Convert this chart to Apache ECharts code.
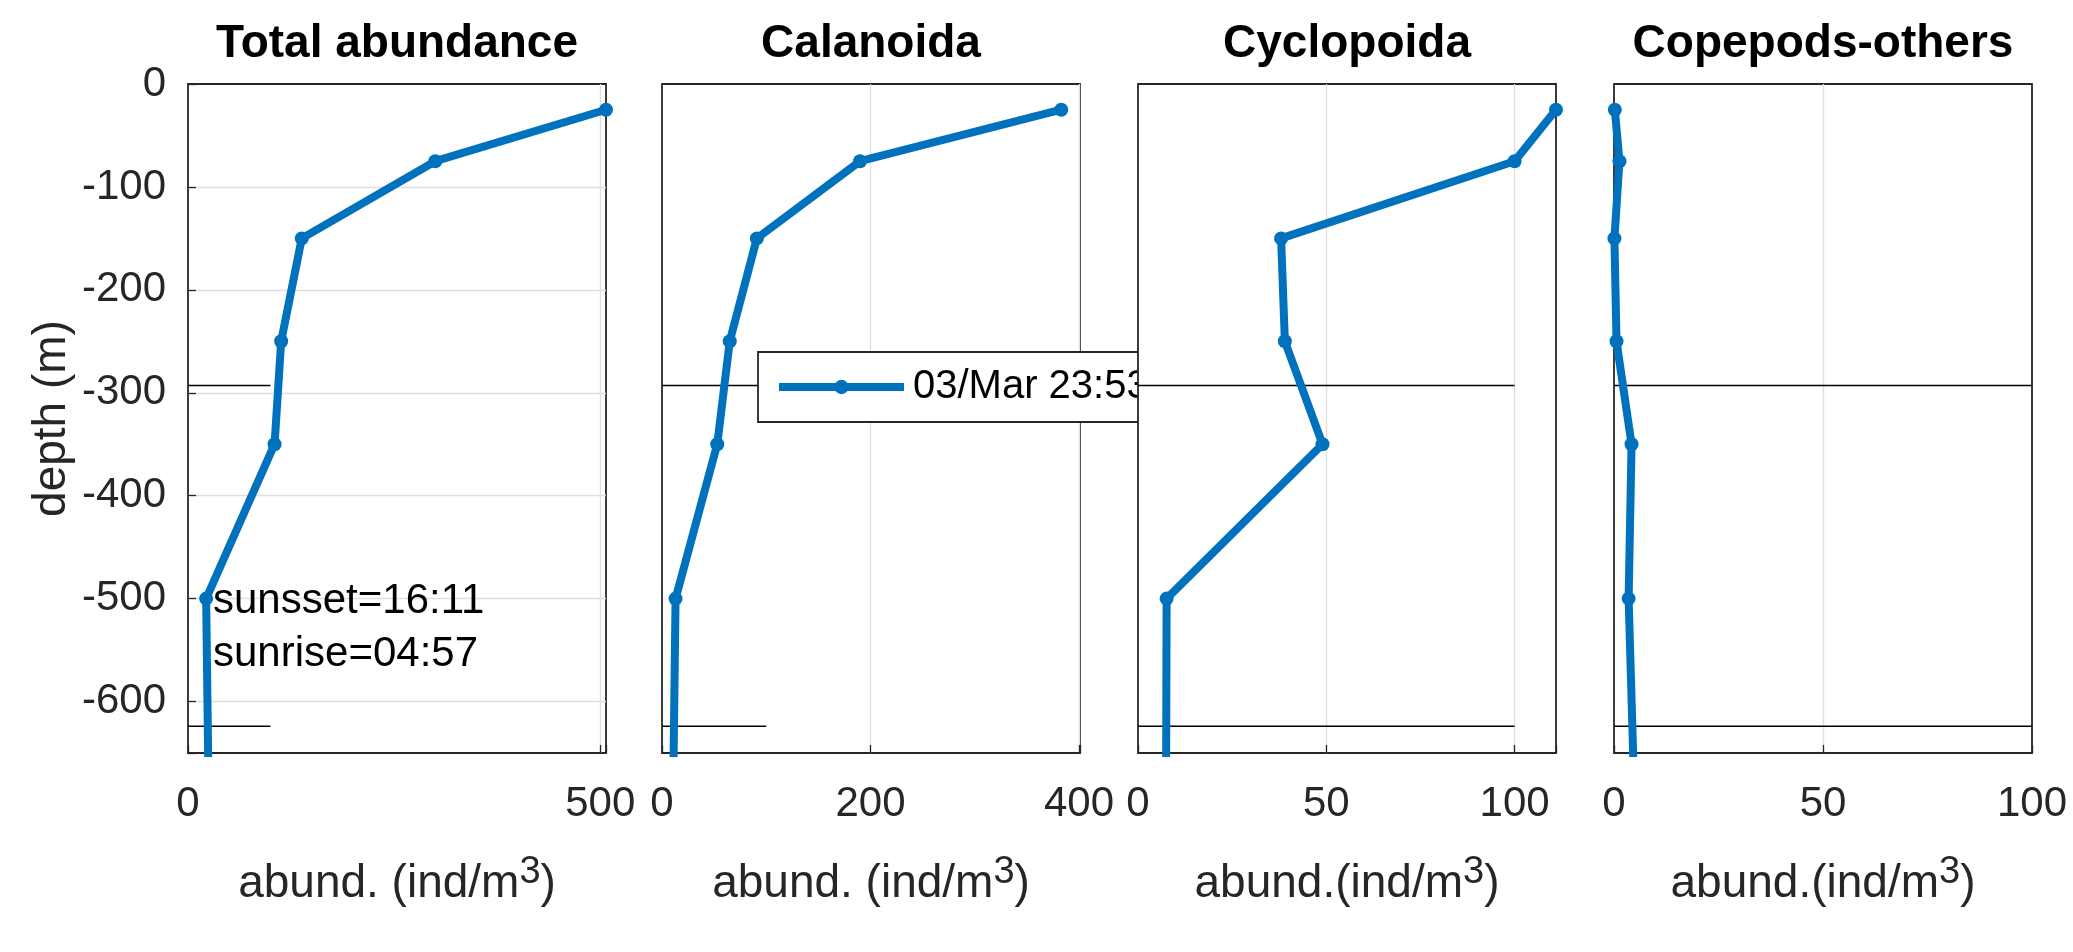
<!DOCTYPE html>
<html><head><meta charset="utf-8">
<script src="https://cdn.jsdelivr.net/npm/echarts@6/dist/echarts.min.js"></script>
<style>html,body{margin:0;padding:0;background:#fff}#c{width:2073px;height:952px}</style>
</head><body><div id="c"></div>
<script>
// ---- data ----
const depths = [-25, -75, -150, -250, -350, -500, -750];
const totalAbundance = [507, 300, 138, 113, 105, 22, 26];
const calanoida = [383, 190, 91, 65, 53, 13, 10];
const cyclopoida = [111, 100, 38, 39, 49, 7.6, 7.4];
const copepodsOthers = [0.2, 1.3, 0.1, 0.6, 4.2, 3.5, 5.3];
const panelTitles = ['Total abundance', 'Calanoida', 'Cyclopoida', 'Copepods-others'];
const xAxisNames = ['abund. (ind/m', 'abund. (ind/m', 'abund.(ind/m', 'abund.(ind/m'];
const xMax = [507, 401, 111, 100];
const xTickStep = [500, 200, 50, 50];
const yMin = -650, yMax = 0, yTickStep = 100;
const refDepths = [-293, -624];
const refLineX = [0, 100];
const legendLabel = '03/Mar 23:53';
const noteLines = ['sunsset=16:11', 'sunrise=04:57'];
const yAxisName = 'depth (m)';

// ---- layout / style ----
const FF = '"Liberation Sans", Arial, Helvetica, sans-serif';
const BLUE = '#0072BD', AX = '#262626', GRIDC = '#dfdfdf';
const lefts = [188, 662, 1138, 1614], W = 418, TOP = 84, H = 669;
const panelValues = [totalAbundance, calanoida, cyclopoida, copepodsOthers];

const grids = [], xAxes = [], yAxes = [], series = [], graphics = [];
lefts.forEach((l, i) => {
  const front = i === 2;
  grids.push({left: l, top: TOP, width: W, height: H, show: true,
    backgroundColor: front ? '#ffffff' : 'transparent',
    borderColor: AX, borderWidth: 1.8, z: front ? 5 : 0});
  const step = xTickStep[i];
  xAxes.push({gridIndex: i, type: 'value', position: 'bottom', min: 0, max: xMax[i], interval: step, z: front ? 6 : 0,
    axisLine: {show: false, onZero: false},
    axisTick: {show: true, inside: true, length: 8, lineStyle: {color: AX, width: 1.3}},
    axisLabel: {margin: 30, fontSize: 42, lineHeight: 42, color: AX, fontFamily: FF,
      formatter: v => (Math.abs(v % step) < 1e-9 ? String(v) : '')},
    splitLine: {show: true, showMinLine: false, showMaxLine: false, lineStyle: {color: GRIDC, width: 1.3}},
    name: '{a|' + xAxisNames[i] + '}{s|3}{a|)}', nameLocation: 'middle', nameGap: 101,
    nameTextStyle: {color: AX, fontFamily: FF, fontSize: 46,
      rich: {a: {fontSize: 46, lineHeight: 60, color: AX, fontFamily: FF},
             s: {fontSize: 38, lineHeight: 30, verticalAlign: 'top', color: AX, fontFamily: FF}}}
  });
  const first = i === 0;
  yAxes.push({gridIndex: i, type: 'value', position: 'left', min: yMin, max: yMax, minInterval: yTickStep, maxInterval: yTickStep,
    z: front ? 6 : 0,
    axisLine: {show: false, onZero: false},
    axisTick: {show: first, inside: true, length: 8, lineStyle: {color: AX, width: 1.3}},
    axisLabel: {show: first, margin: 22, fontSize: 42, lineHeight: 42, color: AX, fontFamily: FF,
      formatter: v => (Math.abs(v % yTickStep) < 1e-9 ? String(v) : '')},
    splitLine: {show: first, showMinLine: false, showMaxLine: false, lineStyle: {color: GRIDC, width: 1.3}},
    name: first ? yAxisName : '', nameLocation: 'middle', nameGap: 113,
    nameTextStyle: {color: AX, fontFamily: FF, fontSize: 46, lineHeight: 46}
  });
  refDepths.forEach(d => {
    series.push({type: 'line', name: 'ref', xAxisIndex: i, yAxisIndex: i, silent: true,
      data: refLineX.map(x => [x, d]), symbol: 'none', z: front ? 6 : 1,
      lineStyle: {color: '#000', width: 1.4}, itemStyle: {color: '#000'}});
  });
  const vals = panelValues[i];
  series.push({type: 'line', name: legendLabel, xAxisIndex: i, yAxisIndex: i,
    data: depths.map((d, k) => [vals[k], d]), symbol: 'circle', symbolSize: 14, showSymbol: true,
    clip: true, z: front ? 7 : 2,
    lineStyle: {color: BLUE, width: 8, join: 'round'}, itemStyle: {color: BLUE}});
  graphics.push({type: 'text', x: l + W / 2, y: 44, silent: true,
    style: {text: panelTitles[i], fontSize: 46, fontWeight: 'bold', fontFamily: FF, fill: '#000',
      align: 'center', verticalAlign: 'middle'}});
});
graphics.push({type: 'text', left: 213, top: 575, silent: true, z: 10,
  style: {text: noteLines.join('\n'), fontSize: 42, fontFamily: FF, fill: '#000', lineHeight: 53}});

const chart = echarts.init(document.getElementById('c'), null, {renderer: 'canvas'});
chart.setOption({
  animation: false,
  backgroundColor: '#ffffff',
  grid: grids, xAxis: xAxes, yAxis: yAxes, series: series,
  legend: {data: [legendLabel], left: 758, top: 352, orient: 'horizontal', z: 3, selectedMode: false,
    backgroundColor: '#ffffff', borderColor: AX, borderWidth: 1.8, borderRadius: 0,
    padding: [15, 40, 15, 17], itemWidth: 125, itemHeight: 18,
    lineStyle: {width: 8, color: BLUE}, itemStyle: {color: BLUE},
    textStyle: {fontSize: 40, lineHeight: 40, color: '#000', fontFamily: FF, padding: [0, 0, 0, 4]}},
  graphic: graphics
});
</script></body></html>
